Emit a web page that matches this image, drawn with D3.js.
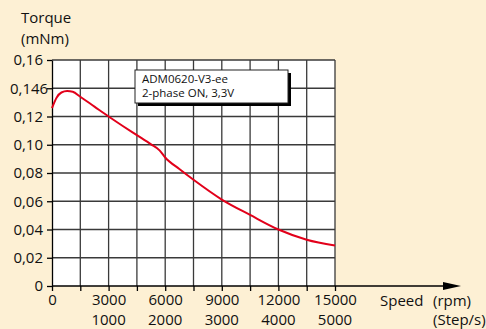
<!DOCTYPE html>
<html>
<head>
<meta charset="utf-8">
<script src="https://cdn.jsdelivr.net/npm/d3@7.9.0/dist/d3.min.js"></script>
<style>
  html, body { margin: 0; padding: 0; background: #fdf0d4; }
  svg { display: block; font-family: "Open Sans", "Noto Sans", sans-serif; }
</style>
</head>
<body>
<svg id="chart" width="486" height="329"></svg>
<script>
// ---- data ----
const speedRpm = [0, 250, 500, 800, 1100, 1500, 2250, 3000, 3750, 4500, 5250, 5700, 6000, 6750, 7500, 9000, 10500, 12000, 13500, 15000];
const torqueMNm = [0.126, 0.1335, 0.137, 0.138, 0.1375, 0.134, 0.127, 0.120, 0.1133, 0.1068, 0.1003, 0.096, 0.091, 0.0828, 0.0752, 0.0612, 0.0503, 0.040, 0.0328, 0.0286];

const yTickValues = [0, 0.02, 0.04, 0.06, 0.08, 0.10, 0.12, 0.14, 0.16];
const yTickLabels = ['0', '0,02', '0,04', '0,06', '0,08', '0,10', '0,12', '0,146', '0,16'];
const rpmTicks = [0, 3000, 6000, 9000, 12000, 15000];
const stepTicks = [1000, 2000, 3000, 4000, 5000];
const legendLines = ['ADM0620-V3-ee', '2-phase ON, 3,3V'];

// ---- layout ----
const svg = d3.select('#chart');
const x = d3.scaleLinear().domain([0, 15000]).range([52, 335]);
const y = d3.scaleLinear().domain([0, 0.16]).range([286, 60]);
const gridColor = '#3a3a3a';

// plot background
svg.append('rect')
  .attr('x', x(0)).attr('y', y(0.16))
  .attr('width', x(15000) - x(0)).attr('height', y(0) - y(0.16))
  .attr('fill', '#fff');

// grid
const xGrid = d3.range(1500, 15001, 1500);
svg.append('g').selectAll('line').data(xGrid).join('line')
  .attr('x1', d => x(d)).attr('x2', d => x(d))
  .attr('y1', y(0)).attr('y2', y(0.16))
  .attr('stroke', gridColor).attr('stroke-width', 1.3);
svg.append('g').selectAll('line').data(yTickValues.slice(1)).join('line')
  .attr('x1', x(0)).attr('x2', x(15000))
  .attr('y1', d => y(d)).attr('y2', d => y(d))
  .attr('stroke', gridColor).attr('stroke-width', 1.3);

// y axis
const yAxis = svg.append('g')
  .attr('transform', `translate(${x(0)},0)`)
  .call(d3.axisLeft(y).tickValues(yTickValues).tickSize(5).tickSizeOuter(0)
    .tickFormat((d, i) => yTickLabels[i]));
yAxis.select('.domain').attr('stroke', '#000').attr('stroke-width', 1.3);
yAxis.selectAll('.tick line').attr('stroke', '#000').attr('stroke-width', 1.3);
yAxis.selectAll('.tick text')
  .attr('font-size', 15).attr('fill', '#111')
  .attr('font-family', '"Open Sans", sans-serif')
  .attr('x', (d, i) => yTickLabels[i].length > 4 ? -42 : -9)
  .attr('text-anchor', (d, i) => yTickLabels[i].length > 4 ? 'start' : 'end');

// x axis (ticks at each grid line, rpm labels every 3000)
const xAxis = svg.append('g')
  .attr('transform', `translate(0,${y(0)})`)
  .call(d3.axisBottom(x).tickValues([0, ...xGrid]).tickSize(5).tickSizeOuter(0)
    .tickFormat(d => rpmTicks.includes(d) ? String(d) : ''));
xAxis.select('.domain').remove();
xAxis.selectAll('.tick line').attr('stroke', '#000').attr('stroke-width', 1.3);
xAxis.selectAll('.tick text')
  .attr('font-size', 15).attr('fill', '#111')
  .attr('font-family', '"Open Sans", sans-serif')
  .attr('y', 8);

// second row: steps per second
svg.append('g').selectAll('text').data(stepTicks).join('text')
  .attr('x', d => x(d * 3)).attr('y', 325)
  .attr('text-anchor', 'middle')
  .attr('font-size', 15).attr('fill', '#111')
  .text(d => d);

// x axis line with arrow
svg.append('line')
  .attr('x1', x(0)).attr('x2', 445)
  .attr('y1', y(0)).attr('y2', y(0))
  .attr('stroke', '#000').attr('stroke-width', 1.3);
svg.append('path')
  .attr('d', `M443,${y(0) - 4}L461,${y(0)}L443,${y(0) + 4}Z`)
  .attr('fill', '#000');

// torque curve
const line = d3.line()
  .x((d, i) => x(speedRpm[i]))
  .y(d => y(d))
  .curve(d3.curveMonotoneX);
svg.append('path')
  .datum(torqueMNm)
  .attr('d', line)
  .attr('fill', 'none')
  .attr('stroke', '#e2001a')
  .attr('stroke-width', 2);

// legend box with shadow
const lg = svg.append('g').attr('transform', 'translate(135,70)');
lg.append('rect').attr('x', 3).attr('y', 3).attr('width', 153).attr('height', 33).attr('fill', '#000');
lg.append('rect').attr('x', 0).attr('y', 0).attr('width', 153).attr('height', 33)
  .attr('fill', '#fff').attr('stroke', '#222').attr('stroke-width', 1);
lg.selectAll('text').data(legendLines).join('text')
  .attr('x', 7).attr('y', (d, i) => 13 + i * 13.5)
  .attr('font-size', 11.5).attr('fill', '#111')
  .text(d => d);

// axis titles
const titles = [
  { t: 'Torque', x: 21, y: 23 },
  { t: '(mNm)', x: 21, y: 44 },
  { t: 'Speed', x: 380, y: 306 },
  { t: '(rpm)', x: 433, y: 306 },
  { t: '(Step/s)', x: 433, y: 325 }
];
svg.append('g').selectAll('text').data(titles).join('text')
  .attr('x', d => d.x).attr('y', d => d.y)
  .attr('font-size', 15).attr('fill', '#111')
  .text(d => d.t);
</script>
</body>
</html>
